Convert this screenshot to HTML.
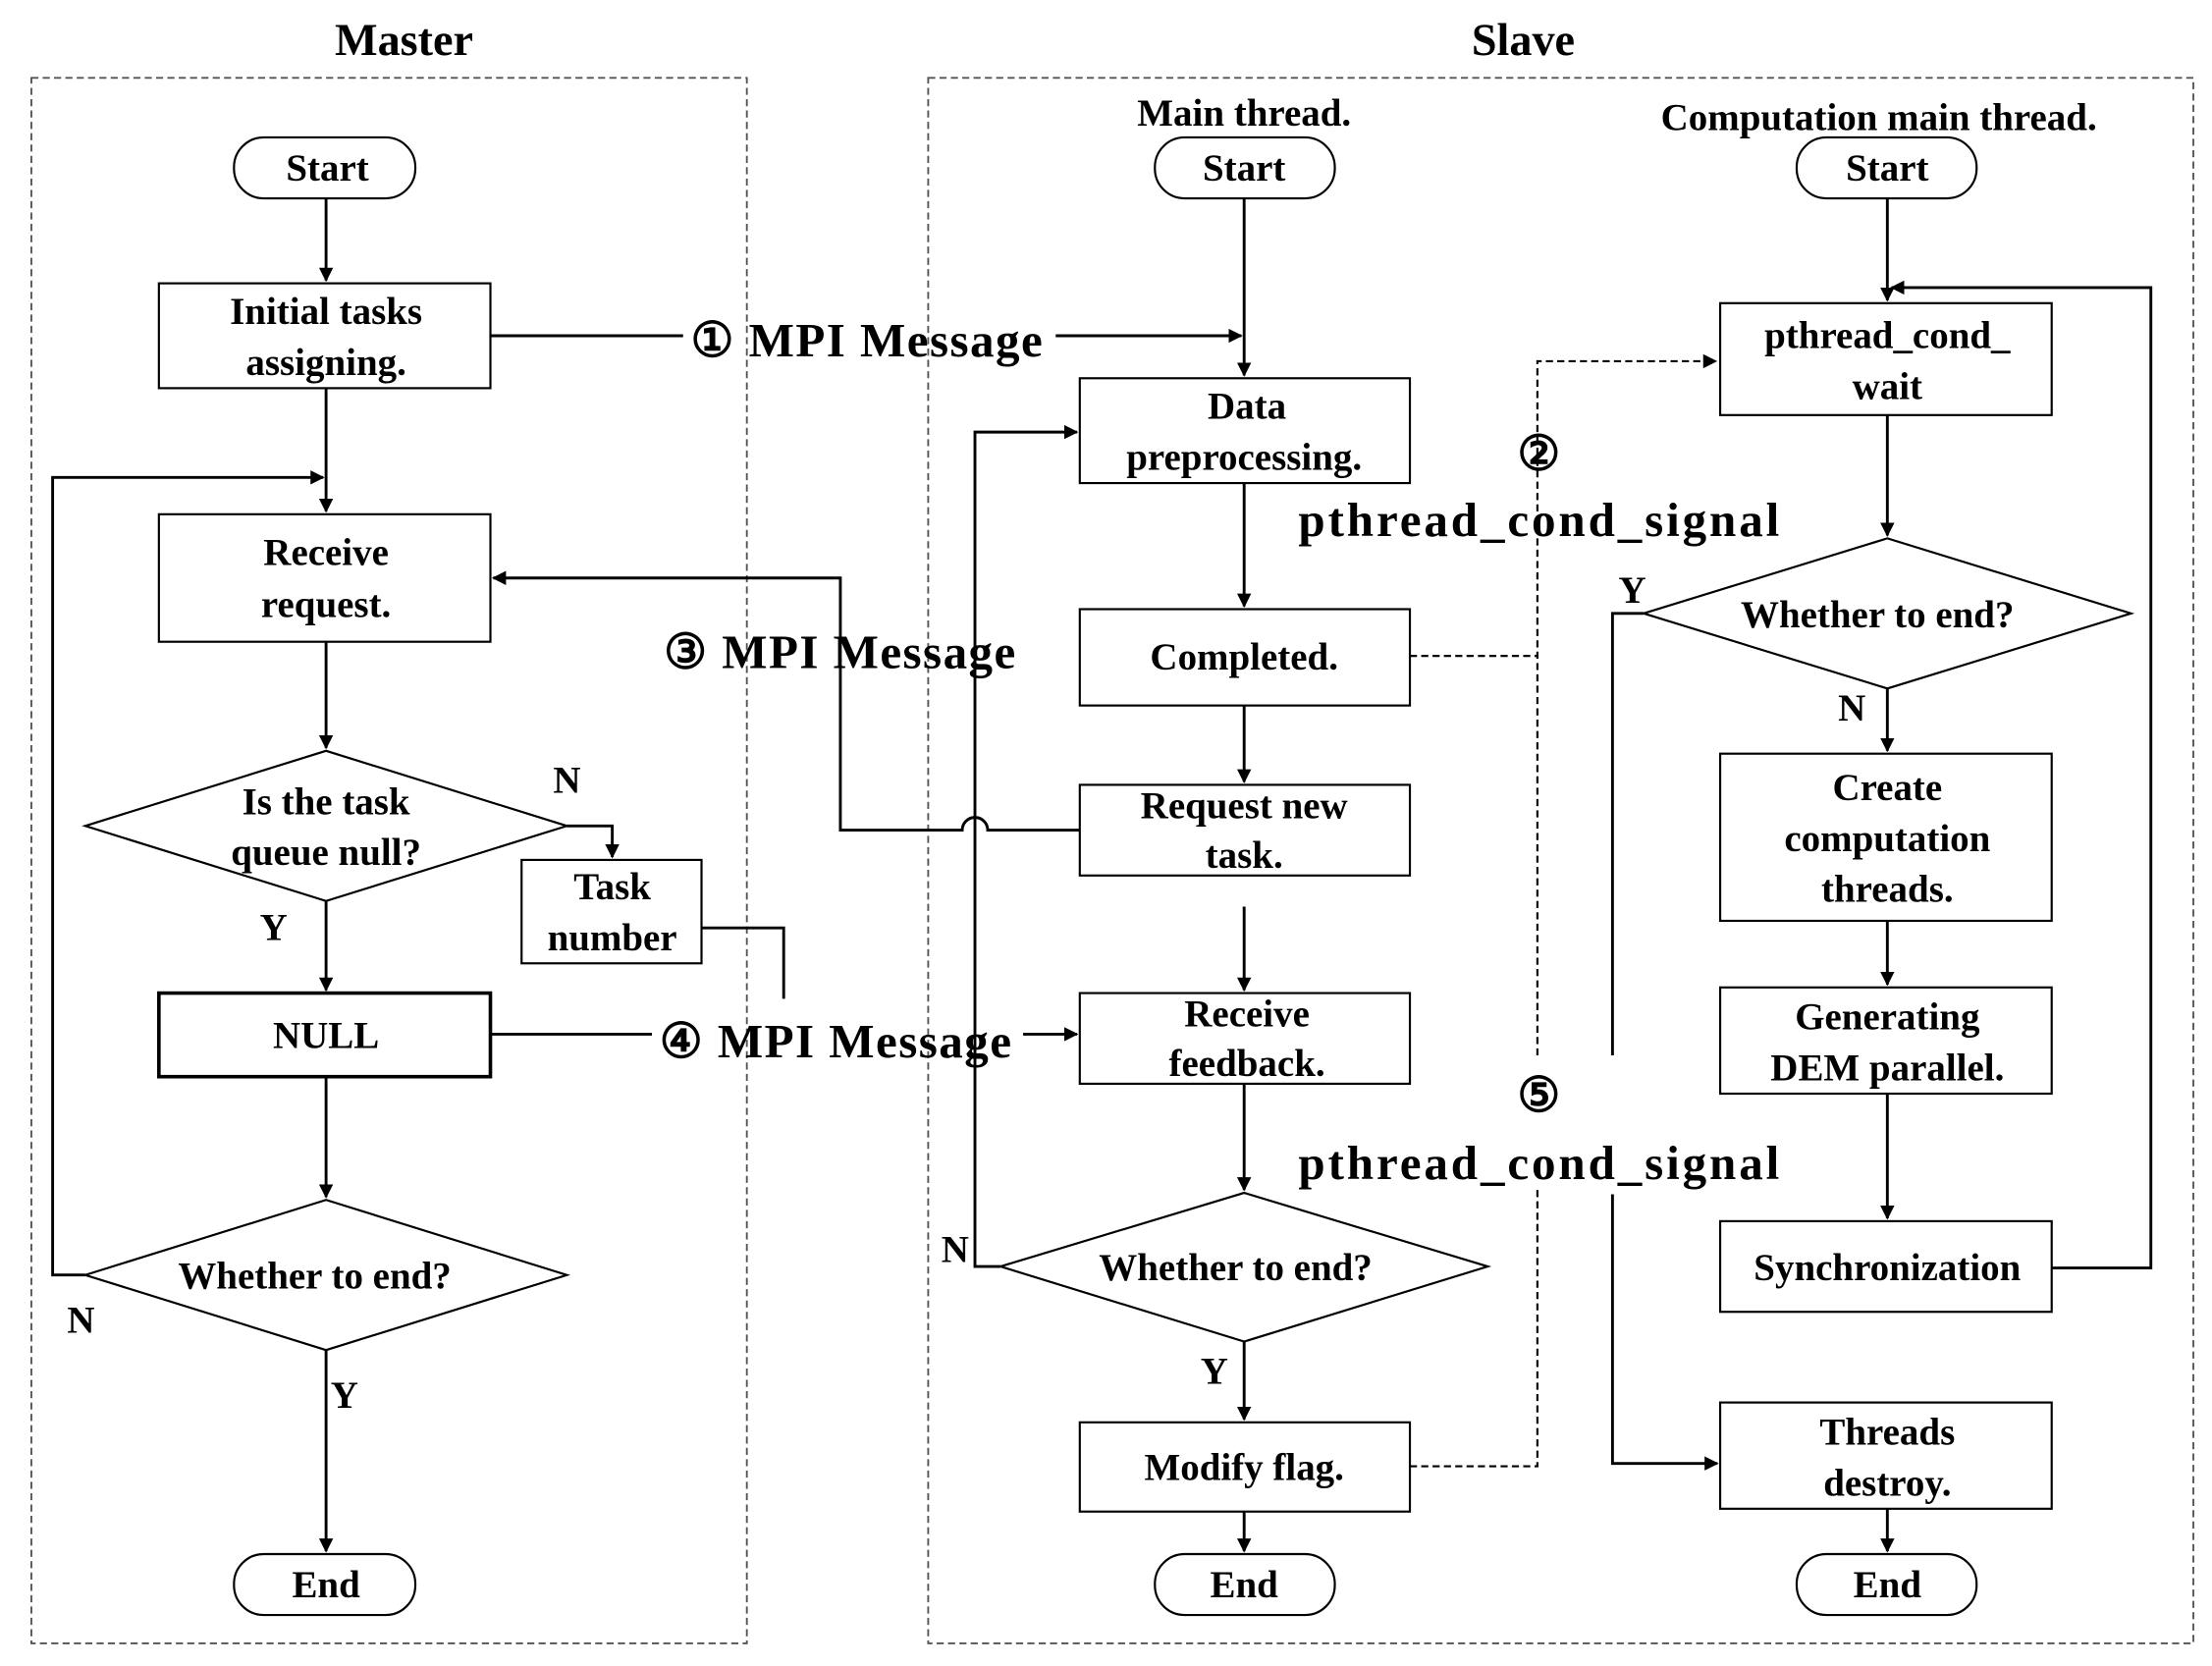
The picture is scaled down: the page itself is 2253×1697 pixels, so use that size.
<!DOCTYPE html>
<html><head><meta charset="utf-8"><style>
html,body{margin:0;padding:0;background:#fff;}
svg{display:block;}
text{font-family:"Liberation Serif",serif;font-weight:bold;fill:#000;text-anchor:middle;dominant-baseline:central;}
</style></head><body>
<svg width="2253" height="1697" viewBox="0 0 1561 1176" xmlns="http://www.w3.org/2000/svg">
<defs><marker id="a" markerWidth="10" markerHeight="10" refX="9" refY="5" orient="auto" markerUnits="userSpaceOnUse"><path d="M0,0 L10,5 L0,10 z" fill="#000"/></marker></defs>
<g fill="none" stroke="#555" stroke-width="1.3" stroke-dasharray="5,3">
<rect x="22" y="55" width="505" height="1105"/>
<rect x="655" y="55" width="893" height="1105"/>
</g>
<g font-size="32"><text x="285" y="28">Master</text><text x="1075" y="28">Slave</text></g>
<g fill="#fff" stroke="#000" stroke-width="1.5">
<rect x="165" y="97" width="128" height="43" rx="21"/>
<rect x="112" y="200" width="234" height="74"/>
<rect x="112" y="363" width="234" height="90"/>
<polygon points="60,583 230,530 400,583 230,636"/>
<rect x="368" y="607" width="127" height="73"/>
<rect x="112" y="701" width="234" height="59" stroke-width="2.5"/>
<polygon points="60,900 230,847 400,900 230,953"/>
<rect x="165" y="1097" width="128" height="43" rx="21"/>
<rect x="815" y="97" width="127" height="43" rx="21"/>
<rect x="762" y="267" width="233" height="74"/>
<rect x="762" y="430" width="233" height="68"/>
<rect x="762" y="554" width="233" height="64"/>
<rect x="762" y="701" width="233" height="64"/>
<polygon points="706,894 878,842 1050,894 878,947"/>
<rect x="762" y="1004" width="233" height="63"/>
<rect x="815" y="1097" width="127" height="43" rx="21"/>
<rect x="1268" y="97" width="127" height="43" rx="21"/>
<rect x="1214" y="214" width="234" height="79"/>
<polygon points="1160,433 1332,380 1504,433 1332,486"/>
<rect x="1214" y="532" width="234" height="118"/>
<rect x="1214" y="697" width="234" height="75"/>
<rect x="1214" y="862" width="234" height="64"/>
<rect x="1214" y="990" width="234" height="75"/>
<rect x="1268" y="1097" width="127" height="43" rx="21"/>
</g>
<g fill="none" stroke="#000" stroke-width="2">
<path d="M230,140V198" marker-end="url(#a)"/>
<path d="M230,274V361" marker-end="url(#a)"/>
<path d="M60,900H37V337H228" marker-end="url(#a)"/>
<path d="M230,453V528" marker-end="url(#a)"/>
<path d="M400,583H432V605" marker-end="url(#a)"/>
<path d="M230,636V699" marker-end="url(#a)"/>
<path d="M230,760V845" marker-end="url(#a)"/>
<path d="M230,953V1095" marker-end="url(#a)"/>
<path d="M495,655H553V705"/>
<path d="M346,237H482M745,237H876" marker-end="url(#a)"/>
<path d="M346,730H460M722,730H760" marker-end="url(#a)"/>
<path d="M762,586H697A9,9 0 0 0 679,586H593V408H348" marker-end="url(#a)"/>
<path d="M878,140V265" marker-end="url(#a)"/>
<path d="M878,341V428" marker-end="url(#a)"/>
<path d="M878,498V552" marker-end="url(#a)"/>
<path d="M878,640V699" marker-end="url(#a)"/>
<path d="M878,765V840" marker-end="url(#a)"/>
<path d="M878,947V1002" marker-end="url(#a)"/>
<path d="M878,1067V1095" marker-end="url(#a)"/>
<path d="M706,894H688V305H760" marker-end="url(#a)"/>
<path d="M1332,140V212" marker-end="url(#a)"/>
<path d="M1448,895H1518V203H1335" marker-end="url(#a)"/>
<path d="M1332,293V378" marker-end="url(#a)"/>
<path d="M1332,486V530" marker-end="url(#a)"/>
<path d="M1332,650V695" marker-end="url(#a)"/>
<path d="M1332,772V860" marker-end="url(#a)"/>
<path d="M1332,1065V1095" marker-end="url(#a)"/>
<path d="M1160,433H1138V745M1138,843V1033H1212" marker-end="url(#a)"/>
</g>
<g fill="none" stroke="#000" stroke-width="1.5" stroke-dasharray="5,3">
<path d="M995,463H1085M1085,745V255H1211" marker-end="url(#a)"/>
<path d="M995,1035H1085V840"/>
</g>
<g font-size="27">
<text x="231" y="119">Start</text>
<text x="230" y="220">Initial tasks</text><text x="230" y="256">assigning.</text>
<text x="230" y="390">Receive</text><text x="230" y="427">request.</text>
<text x="230" y="566">Is the task</text><text x="230" y="602">queue null?</text>
<text x="432" y="626">Task</text><text x="432" y="662">number</text>
<text x="230" y="731">NULL</text>
<text x="222" y="901">Whether to end?</text>
<text x="230" y="1119">End</text>
<text x="878" y="80">Main thread.</text>
<text x="878" y="119">Start</text>
<text x="880" y="287">Data</text><text x="878" y="323">preprocessing.</text>
<text x="878" y="464">Completed.</text>
<text x="878" y="569">Request new</text><text x="878" y="604">task.</text>
<text x="880" y="716">Receive</text><text x="880" y="751">feedback.</text>
<text x="872" y="895">Whether to end?</text>
<text x="878" y="1036">Modify flag.</text>
<text x="878" y="1119">End</text>
<text x="1326" y="83">Computation main thread.</text>
<text x="1332" y="119">Start</text>
<text x="1332" y="237">pthread_cond_</text><text x="1332" y="273">wait</text>
<text x="1325" y="434">Whether to end?</text>
<text x="1332" y="556">Create</text><text x="1332" y="592">computation</text><text x="1332" y="628">threads.</text>
<text x="1332" y="718">Generating</text><text x="1332" y="754">DEM parallel.</text>
<text x="1332" y="895">Synchronization</text>
<text x="1332" y="1011">Threads</text><text x="1332" y="1047">destroy.</text>
<text x="1332" y="1119">End</text>
<text x="400" y="551">N</text><text x="193" y="655">Y</text>
<text x="57" y="932">N</text><text x="243" y="985">Y</text>
<text x="674" y="882">N</text><text x="857" y="968">Y</text>
<text x="1152" y="417">Y</text><text x="1307" y="500">N</text>
</g>
<g font-size="34">
<text x="612" y="240" letter-spacing="1">① MPI Message</text>
<text x="593" y="460" letter-spacing="1">③ MPI Message</text>
<text x="590" y="735" letter-spacing="1">④ MPI Message</text>
<text x="1086" y="320">②</text>
<text x="1087" y="367" letter-spacing="2">pthread_cond_signal</text>
<text x="1086" y="773">⑤</text>
<text x="1087" y="821" letter-spacing="2">pthread_cond_signal</text>
</g>
</svg>
</body></html>
